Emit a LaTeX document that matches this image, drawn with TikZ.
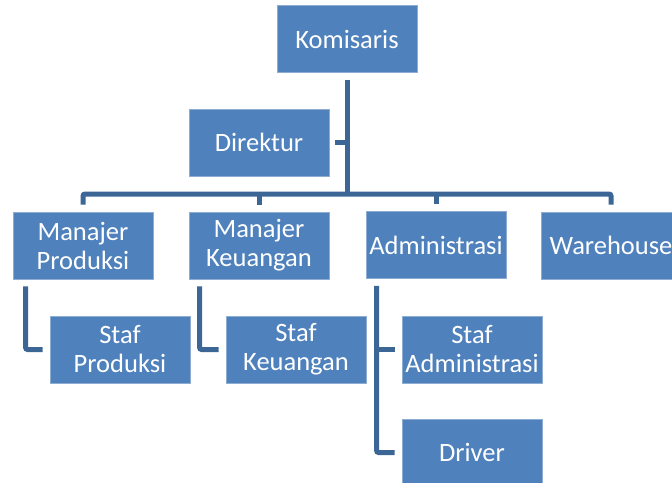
\documentclass[tikz,border=0pt]{standalone}
\usepackage{fontspec}
\setmainfont{Carlito}
\usepackage{tikz}
\usetikzlibrary{positioning, calc}

\definecolor{boxblue}{HTML}{4F81BD}
\definecolor{boxline}{HTML}{8FADD3}
\definecolor{linkblue}{HTML}{3C6696}

\begin{document}
\begin{tikzpicture}[
    x=1pt, y=-1pt,
    unit/.style={rectangle, draw=boxline, line width=0.8pt, fill=boxblue, text=white, align=center, minimum width=140pt, minimum height=67pt, inner sep=0pt, font=\fontsize{26.5}{29}\selectfont},
    link/.style={draw=linkblue, line width=5pt, rounded corners=2pt}
]
\clip (0,0) rectangle (672,482);

% Top
\node[unit] (kom) at (347,39) {Komisaris};
\node[unit] (dir) at (259,142.5) {Direktur};
\coordinate (bus) at (347,194);

% Managers
\node[unit] (mp) at (83,245.5) {Manajer\\Produksi};
\node[unit] (mk) at (259,245.5) {Manajer\\Keuangan};
\node[unit] (adm) at (436,245) {Administrasi};
\node[unit] (wh) at (611,245.5) {Warehouse};

% Staff
\node[unit] (sp) at (120,349.5) {Staf\\Produksi};
\node[unit] (sk) at (296,349.5) {Staf\\Keuangan};
\node[unit] (sa) at (472,349.5) {Staf\\Administrasi};
\node[unit] (drv) at (472,452.5) {Driver};

\draw[link] ([yshift=-7pt]kom.south) -- (bus);
\draw[link] ([xshift=6pt]dir.east) -- (dir.east -| bus);
\draw[link] ([yshift=7pt]mp.north) |- (bus) -| ([yshift=7pt]wh.north);
\draw[link] (bus -| mk) -- ([yshift=7pt]mk.north);
\draw[link] (bus -| adm) -- ([yshift=7pt]adm.north);

\draw[link] ([xshift=13pt,yshift=-7pt]mp.south west) |- ([xshift=-7pt]sp.west);
\draw[link] ([xshift=11pt,yshift=-7pt]mk.south west) |- ([xshift=-7pt]sk.west);
\draw[link] ([xshift=11pt,yshift=-7pt]adm.south west) |- ([xshift=-7pt]drv.west);
\draw[link] ($([xshift=11pt]adm.south west)!(sa.west)!([xshift=11pt]adm.north west)$) -- ([xshift=-7pt]sa.west);

\end{tikzpicture}
\end{document}
